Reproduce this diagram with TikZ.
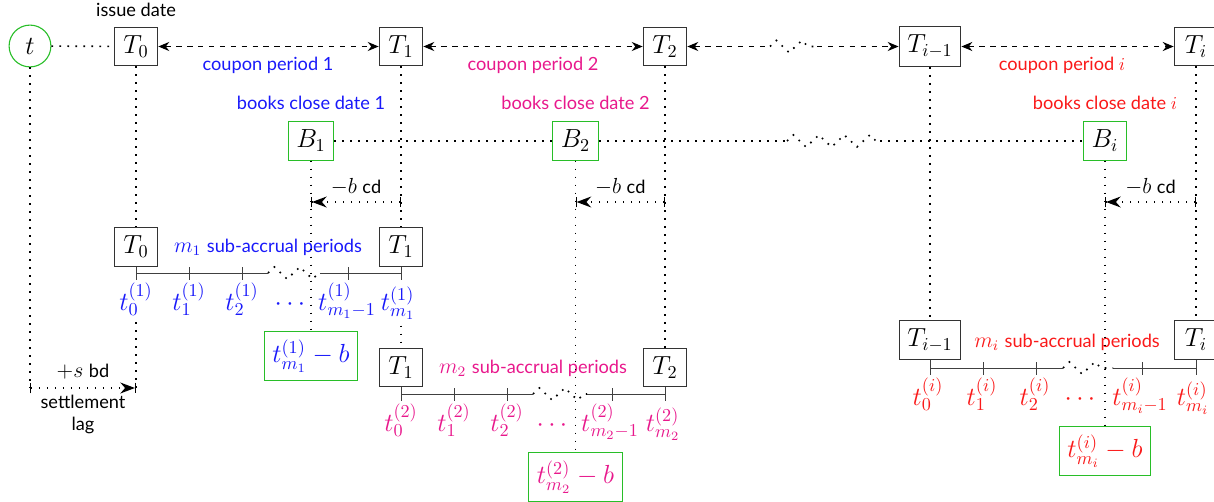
\documentclass[tikz,border=0pt]{standalone}
\usepackage[no-math]{fontspec}
\setmainfont{Lato}
\usetikzlibrary{arrows.meta,positioning,decorations.pathmorphing}
\definecolor{perone}{RGB}{25,25,250}
\definecolor{pertwo}{RGB}{232,24,140}
\definecolor{peri}{RGB}{250,25,25}
\definecolor{bcgreen}{RGB}{40,190,40}
\tikzset{
  >={Stealth[length=6pt,width=5pt]},
  datebox/.style={draw=black!80,line width=.6pt,fill=white,inner sep=4.5pt,
                  minimum width=24pt,minimum height=20pt,font=\Large},
  bcbox/.style={datebox,draw=bcgreen},
  nowpt/.style={circle,draw=bcgreen,line width=.6pt,minimum size=23pt,
                inner sep=0pt,font=\Large},
  tlab/.style={anchor=base,font=\Large},
  link/.style={line width=.9pt,dash pattern=on .9pt off 3.5pt},
  coupon/.style={dashed,line width=.6pt},
  lag/.style={link,{Bar[width=6pt,line width=.6pt]}-{Stealth[length=8pt,width=6pt]Bar[width=6pt,line width=.6pt]}},
  brk/.style={link,decorate,decoration={zigzag,segment length=14pt,amplitude=3.3pt}},
  accr/.style={draw=black!75,line width=.5pt},
  upper/.style={font=\normalsize,label distance=3pt},
}
\begin{document}
\begin{tikzpicture}[x=0.55pt,y=-0.55pt]
  \useasboundingbox (0,0) rectangle (1214,502);
  % coupon dates
  \node[nowpt] (now) at (30,46) {$t$};
  \node[datebox,label={[font=\normalsize,label distance=2pt]above:issue date}] (T0) at (136,46.5) {$T_0$};
  \node[datebox] (T1) at (401,46.5) {$T_1$};
  \node[datebox] (T2) at (665,46.5) {$T_2$};
  \node[datebox] (Tim) at (930,46.5) {$T_{i-1}$};
  \node[datebox] (Ti) at (1196,46.5) {$T_i$};
  \coordinate (zt0) at (770,46.5); \coordinate (zt1) at (817,46.5);
  \draw[link] (now) -- (T0);
  \draw[coupon,<->] (T0) -- (T1); \draw[coupon,<->] (T1) -- (T2);
  \draw[coupon,<-] (T2) -- (zt0); \draw[brk] (zt0) -- (zt1); \draw[coupon,->] (zt1) -- (Tim);
  \draw[coupon,<->] (Tim) -- (Ti);
  \node[text=perone] (cp1) at (268,65) {coupon period 1};
  \node[text=pertwo] (cp2) at (533,65) {coupon period 2};
  \node[text=peri] (cpi) at (1062,65) {coupon period $i$};
  % books close dates
  \node[bcbox,label={[upper,text=perone]above:books close date 1}] (B1) at (311,141) {$B_1$};
  \node[bcbox,label={[upper,text=pertwo]above:books close date 2}] (B2) at (575.5,141) {$B_2$};
  \node[bcbox,label={[upper,text=peri]above:books close date $i$}] (Bi) at (1105,141) {$B_i$};
  \coordinate (zb0) at (787,141); \coordinate (zb1) at (880,141);
  \draw[link] (B1) -- (B2); \draw[link] (B2) -- (zb0); \draw[brk] (zb0) -- (zb1); \draw[link] (zb1) -- (Bi);
  % first coupon period
  \node[datebox] (T0a) at (136,247) {$T_0$};
  \node[datebox] (T1a) at (401,247) {$T_1$};
  \node[text=perone] (sub1) at (268,247) {\large$m_1$ \normalsize sub-accrual periods};
  \draw[accr] (136,273) -- (268,273) (320,273) -- (401,273);
  \draw[brk] (268,273) -- (320,273);
  \draw[accr] (T0a.south) -- (136,280) (189,267) -- (189,280) (242,267) -- (242,280)
    (348,267) -- (348,280) (T1a.south) -- (401,280);
  \node[tlab,text=perone] (ta0) at (136,310) {$t^{(1)}_0$};
  \node[tlab,text=perone] (ta1) at (189,310) {$t^{(1)}_1$};
  \node[tlab,text=perone] (ta2) at (242,310) {$t^{(1)}_2$};
  \node[tlab,text=perone] (tad) at (290,310) {$\cdots$};
  \node[tlab,text=perone] (tam1) at (347,310) {$t^{(1)}_{m_1-1}$};
  \node[tlab,text=perone] (tam) at (398,310) {$t^{(1)}_{m_1}$};
  \node[bcbox,text=perone] (e1) at (311,356) {$t^{(1)}_{m_1}-b$};
  % second coupon period
  \node[datebox] (T1b) at (401,367.5) {$T_1$};
  \node[datebox] (T2b) at (665,367.5) {$T_2$};
  \node[text=pertwo] (sub2) at (533,368) {\large$m_2$ \normalsize sub-accrual periods};
  \draw[accr] (401,394) -- (533,394) (587,394) -- (665,394);
  \draw[brk] (533,394) -- (587,394);
  \draw[accr] (T1b.south) -- (401,401) (454,388) -- (454,401) (507,388) -- (507,401)
    (612,388) -- (612,401) (T2b.south) -- (665,401);
  \node[tlab,text=pertwo] (tb0) at (401,431) {$t^{(2)}_0$};
  \node[tlab,text=pertwo] (tb1) at (454,431) {$t^{(2)}_1$};
  \node[tlab,text=pertwo] (tb2) at (507,431) {$t^{(2)}_2$};
  \node[tlab,text=pertwo] (tbd) at (552,431) {$\cdots$};
  \node[tlab,text=pertwo] (tbm1) at (610,431) {$t^{(2)}_{m_2-1}$};
  \node[tlab,text=pertwo] (tbm) at (663,431) {$t^{(2)}_{m_2}$};
  \node[bcbox,text=pertwo] (e2) at (575.5,477) {$t^{(2)}_{m_2}-b$};
  % i-th coupon period
  \node[datebox] (Timc) at (930,340) {$T_{i-1}$};
  \node[datebox] (Tic) at (1196,340) {$T_i$};
  \node[text=peri] (subi) at (1067,342) {\large$m_i$ \normalsize sub-accrual periods};
  \draw[accr] (930,368) -- (1063,368) (1113,368) -- (1196,368);
  \draw[brk] (1063,368) -- (1113,368);
  \draw[accr] (Timc.south) -- (930,375) (983,362) -- (983,375) (1036,362) -- (1036,375)
    (1142,362) -- (1142,375) (Tic.south) -- (1196,375);
  \node[tlab,text=peri] (tc0) at (928,405) {$t^{(i)}_0$};
  \node[tlab,text=peri] (tc1) at (982,405) {$t^{(i)}_1$};
  \node[tlab,text=peri] (tc2) at (1035,405) {$t^{(i)}_2$};
  \node[tlab,text=peri] (tcd) at (1080,405) {$\cdots$};
  \node[tlab,text=peri] (tcm1) at (1140,405) {$t^{(i)}_{m_i-1}$};
  \node[tlab,text=peri] (tcm) at (1193,405) {$t^{(i)}_{m_i}$};
  \node[bcbox,text=peri] (ei) at (1105,451) {$t^{(i)}_{m_i}-b$};
  % vertical links
  \draw[link] (T0) -- (T0a); \draw[link] (T1) -- (T1a); \draw[link] (T1a |- tam.south) -- (T1b);
  \draw[link] (T2) -- (T2b); \draw[link] (Tim) -- (Timc); \draw[link] (Ti) -- (Tic);
  \draw[link] (B1) -- (e1); \draw[link] (B2) -- (e2); \draw[link] (Bi) -- (ei);
  % lags
  \coordinate (cd1) at (401,202); \coordinate (cb1) at (311,202);
  \coordinate (cd2) at (665,202); \coordinate (cb2) at (575.5,202);
  \coordinate (cdi) at (1196,202); \coordinate (cbi) at (1105,202);
  \draw[lag] (cd1) -- node[above]{\large$-b$ \normalsize cd} (cb1);
  \draw[lag] (cd2) -- node[above]{\large$-b$ \normalsize cd} (cb2);
  \draw[lag] (cdi) -- node[above]{\large$-b$ \normalsize cd} (cbi);
  \coordinate (sl0) at (30,388); \coordinate (sl1) at (136,388);
  \draw[link] (now) -- (sl0); \draw[link] (ta0.south) -- (sl1);
  \draw[lag] (sl0) -- node[above,yshift=1pt]{\large$+s$ \normalsize bd}
    node[below,align=center]{settlement\\lag} (sl1);
\end{tikzpicture}
\end{document}
